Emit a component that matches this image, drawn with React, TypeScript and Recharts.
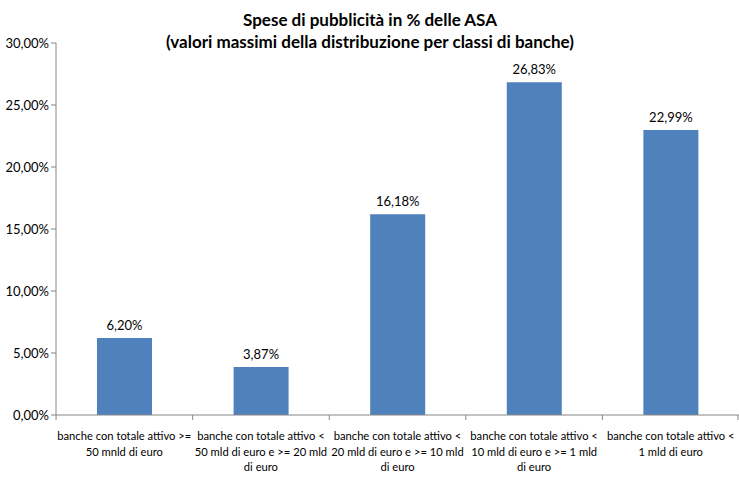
import { BarChart, Bar, XAxis, YAxis, LabelList } from "recharts"

const categories = [
  ["banche con totale attivo >=", "50 mnld di euro"],
  ["banche con totale attivo <", "50 mld di euro e >= 20 mld", "di euro"],
  ["banche con totale attivo <", "20 mld di euro e >= 10 mld", "di euro"],
  ["banche con totale attivo <", "10 mld di euro e >= 1 mld", "di euro"],
  ["banche con totale attivo <", "1 mld di euro"],
]
const values = [6.2, 3.87, 16.18, 26.83, 22.99]
const yTicks = [0, 5, 10, 15, 20, 25, 30]
const titleLines = ["Spese di pubblicità in % delle ASA", "(valori massimi della distribuzione per classi di banche)"]

const data = categories.map((lines, i) => ({ name: String(i), value: values[i] }))

const fmt = (v: number) => v.toFixed(2).replace(".", ",") + "%"
const font = "Lato, 'Open Sans', sans-serif"
const axisColor = "#868686"

function CategoryTick(props: any) {
  const { x, y, payload, index } = props
  const half = 68.25
  const lines = categories[Number(payload.value)]
  return (
    <g>
      <line x1={x - half} y1={y - 8} x2={x - half} y2={y - 3} stroke={axisColor} />
      {index === categories.length - 1 && (
        <line x1={x + half - 1} y1={y - 8} x2={x + half - 1} y2={y - 3} stroke={axisColor} />
      )}
      <text x={x} y={y} textAnchor="middle" fontSize={11.2} fill="#000" fontFamily={font}>
        {lines.map((l, i) => (
          <tspan key={i} x={x} dy={i === 0 ? 17 : 15.5}>
            {l}
          </tspan>
        ))}
      </text>
    </g>
  )
}

export default function App() {
  return (
    <div style={{ position: "fixed", left: 0, top: 0, width: 739, height: 482, background: "#fff", fontFamily: font }}>
      <svg width={739} height={482} style={{ position: "absolute", left: 0, top: 0 }}>
        {titleLines.map((t, i) => (
          <text key={i} x={370} y={26 + i * 22} textAnchor="middle" fontSize={17} fontWeight="bold" fill="#000" fontFamily={font}>
            {t}
          </text>
        ))}
      </svg>
      <div style={{ position: "absolute", left: 0, top: 0 }}>
        <BarChart width={739} height={482} data={data} margin={{ top: 43, right: 0, left: 0, bottom: 0 }} barCategoryGap="30%">
          <XAxis
            dataKey="name"
            interval={0}
            tickLine={false}
            axisLine={{ stroke: axisColor }}
            tick={<CategoryTick />}
            height={67}
          />
          <YAxis
            domain={[0, 30]}
            ticks={yTicks}
            width={56}
            tickFormatter={fmt}
            tick={{ fontSize: 13, fill: "#000", fontFamily: font }}
            tickLine={{ stroke: axisColor }}
            tickSize={5}
            axisLine={{ stroke: axisColor }}
          />
          <Bar dataKey="value" fill="#4F81BD" isAnimationActive={false}>
            <LabelList dataKey="value" position="top" formatter={(v: any) => fmt(Number(v))} fontSize={13} fill="#000" fontFamily={font} offset={8} />
          </Bar>
        </BarChart>
      </div>
    </div>
  )
}
